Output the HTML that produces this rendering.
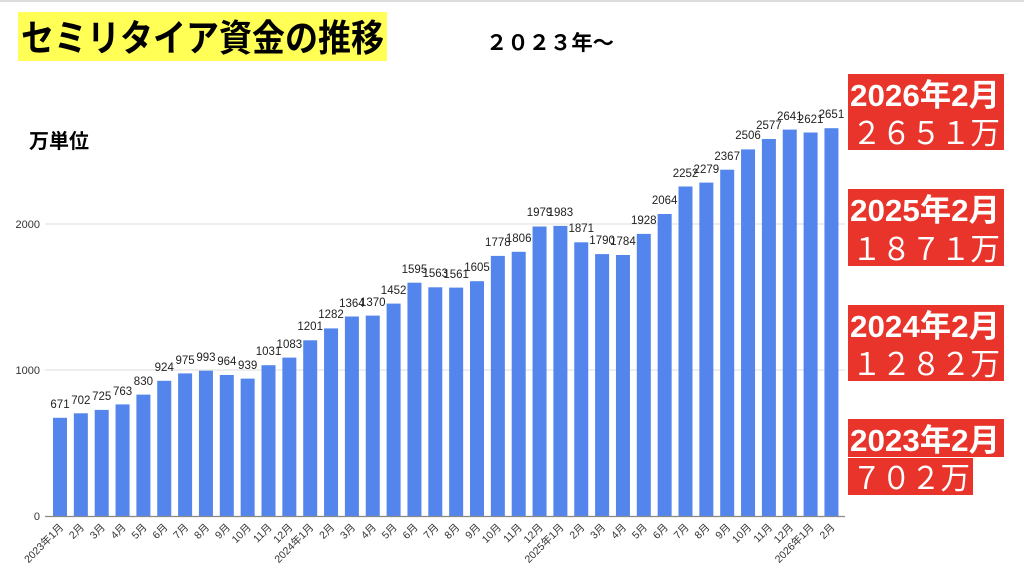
<!DOCTYPE html>
<html><head><meta charset="utf-8"><style>
html,body{margin:0;padding:0;background:#fff;width:1024px;height:577px;overflow:hidden}
svg{display:block}
text{font-family:"Liberation Sans","Noto Sans CJK JP",sans-serif}
.v{font-size:11.5px;fill:#222;text-anchor:middle}
.x{font-size:10.5px;fill:#333;text-anchor:end}
.t{font-size:11px;fill:#333;text-anchor:end}
.rb{fill:#e8342a}
.rt{fill:#fff;font-weight:bold;font-size:31px}
.rn{fill:#fff;font-size:31px}
</style></head><body>
<svg width="1024" height="577" viewBox="0 0 1024 577" xmlns="http://www.w3.org/2000/svg">
<rect x="0" y="0" width="1024" height="2" fill="#ddd"/>
<rect x="18" y="12" width="369" height="49" fill="#ffff55"/>
<text x="21" y="51" textLength="363" lengthAdjust="spacingAndGlyphs" style="font-size:37px;font-weight:bold;fill:#000">セミリタイア資金の推移</text>
<text x="486" y="50" textLength="128" lengthAdjust="spacingAndGlyphs" style="font-size:21px;font-weight:bold;fill:#000">２０２３年〜</text>
<text x="29" y="148" style="font-size:20px;font-weight:bold;fill:#000">万単位</text>
<line x1="45" y1="224" x2="845" y2="224" stroke="#ddd"/>
<line x1="45" y1="370" x2="845" y2="370" stroke="#ddd"/>
<text class="t" x="40" y="228">2000</text>
<text class="t" x="40" y="374">1000</text>
<text class="t" x="40" y="520">0</text>
<g fill="#5385ec">
<rect x="53" y="417.8" width="14" height="98.2"/>
<rect x="73.85" y="413.3" width="14" height="102.7"/>
<rect x="94.7" y="409.9" width="14" height="106.1"/>
<rect x="115.55" y="404.4" width="14" height="111.6"/>
<rect x="136.4" y="394.6" width="14" height="121.4"/>
<rect x="157.25" y="380.8" width="14" height="135.2"/>
<rect x="178.1" y="373.4" width="14" height="142.6"/>
<rect x="198.95" y="370.7" width="14" height="145.3"/>
<rect x="219.8" y="375" width="14" height="141"/>
<rect x="240.65" y="378.6" width="14" height="137.4"/>
<rect x="261.5" y="365.2" width="14" height="150.8"/>
<rect x="282.35" y="357.6" width="14" height="158.4"/>
<rect x="303.2" y="340.3" width="14" height="175.7"/>
<rect x="324.05" y="328.4" width="14" height="187.6"/>
<rect x="344.9" y="316.5" width="14" height="199.5"/>
<rect x="365.75" y="315.6" width="14" height="200.4"/>
<rect x="386.6" y="303.6" width="14" height="212.4"/>
<rect x="407.45" y="282.7" width="14" height="233.3"/>
<rect x="428.3" y="287.3" width="14" height="228.7"/>
<rect x="449.15" y="287.6" width="14" height="228.4"/>
<rect x="470" y="281.2" width="14" height="234.8"/>
<rect x="490.85" y="255.9" width="14" height="260.1"/>
<rect x="511.7" y="251.8" width="14" height="264.2"/>
<rect x="532.55" y="226.5" width="14" height="289.5"/>
<rect x="553.4" y="225.9" width="14" height="290.1"/>
<rect x="574.25" y="242.3" width="14" height="273.7"/>
<rect x="595.1" y="254.1" width="14" height="261.9"/>
<rect x="615.95" y="255" width="14" height="261"/>
<rect x="636.8" y="233.9" width="14" height="282.1"/>
<rect x="657.65" y="214" width="14" height="302"/>
<rect x="678.5" y="186.5" width="14" height="329.5"/>
<rect x="699.35" y="182.6" width="14" height="333.4"/>
<rect x="720.2" y="169.7" width="14" height="346.3"/>
<rect x="741.05" y="149.4" width="14" height="366.6"/>
<rect x="761.9" y="139" width="14" height="377"/>
<rect x="782.75" y="129.6" width="14" height="386.4"/>
<rect x="803.6" y="132.5" width="14" height="383.5"/>
<rect x="824.45" y="128.2" width="14" height="387.8"/>
</g>
<line x1="45" y1="516.5" x2="845" y2="516.5" stroke="#888" stroke-width="1.2"/>
<g class="v">
<text x="60" y="408">671</text>
<text x="80.85" y="404">702</text>
<text x="101.7" y="400">725</text>
<text x="122.55" y="395">763</text>
<text x="143.4" y="385">830</text>
<text x="164.25" y="371">924</text>
<text x="185.1" y="364">975</text>
<text x="205.95" y="361">993</text>
<text x="226.8" y="365">964</text>
<text x="247.65" y="369">939</text>
<text x="268.5" y="355">1031</text>
<text x="289.35" y="348">1083</text>
<text x="310.2" y="330">1201</text>
<text x="331.05" y="318">1282</text>
<text x="351.9" y="307">1364</text>
<text x="372.75" y="306">1370</text>
<text x="393.6" y="294">1452</text>
<text x="414.45" y="273">1595</text>
<text x="435.3" y="277">1563</text>
<text x="456.15" y="278">1561</text>
<text x="477" y="271">1605</text>
<text x="497.85" y="246">1778</text>
<text x="518.7" y="242">1806</text>
<text x="539.55" y="216">1979</text>
<text x="560.4" y="216">1983</text>
<text x="581.25" y="232">1871</text>
<text x="602.1" y="244">1790</text>
<text x="622.95" y="245">1784</text>
<text x="643.8" y="224">1928</text>
<text x="664.65" y="204">2064</text>
<text x="685.5" y="177">2252</text>
<text x="706.35" y="173">2279</text>
<text x="727.2" y="160">2367</text>
<text x="748.05" y="139">2506</text>
<text x="768.9" y="129">2577</text>
<text x="789.75" y="120">2641</text>
<text x="810.6" y="123">2621</text>
<text x="831.45" y="118">2651</text>
</g>
<g class="x">
<text x="64" y="528" transform="rotate(-45 64 528)">2023年1月</text>
<text x="84.85" y="528" transform="rotate(-45 84.85 528)">2月</text>
<text x="105.7" y="528" transform="rotate(-45 105.7 528)">3月</text>
<text x="126.55" y="528" transform="rotate(-45 126.55 528)">4月</text>
<text x="147.4" y="528" transform="rotate(-45 147.4 528)">5月</text>
<text x="168.25" y="528" transform="rotate(-45 168.25 528)">6月</text>
<text x="189.1" y="528" transform="rotate(-45 189.1 528)">7月</text>
<text x="209.95" y="528" transform="rotate(-45 209.95 528)">8月</text>
<text x="230.8" y="528" transform="rotate(-45 230.8 528)">9月</text>
<text x="251.65" y="528" transform="rotate(-45 251.65 528)">10月</text>
<text x="272.5" y="528" transform="rotate(-45 272.5 528)">11月</text>
<text x="293.35" y="528" transform="rotate(-45 293.35 528)">12月</text>
<text x="314.2" y="528" transform="rotate(-45 314.2 528)">2024年1月</text>
<text x="335.05" y="528" transform="rotate(-45 335.05 528)">2月</text>
<text x="355.9" y="528" transform="rotate(-45 355.9 528)">3月</text>
<text x="376.75" y="528" transform="rotate(-45 376.75 528)">4月</text>
<text x="397.6" y="528" transform="rotate(-45 397.6 528)">5月</text>
<text x="418.45" y="528" transform="rotate(-45 418.45 528)">6月</text>
<text x="439.3" y="528" transform="rotate(-45 439.3 528)">7月</text>
<text x="460.15" y="528" transform="rotate(-45 460.15 528)">8月</text>
<text x="481" y="528" transform="rotate(-45 481 528)">9月</text>
<text x="501.85" y="528" transform="rotate(-45 501.85 528)">10月</text>
<text x="522.7" y="528" transform="rotate(-45 522.7 528)">11月</text>
<text x="543.55" y="528" transform="rotate(-45 543.55 528)">12月</text>
<text x="564.4" y="528" transform="rotate(-45 564.4 528)">2025年1月</text>
<text x="585.25" y="528" transform="rotate(-45 585.25 528)">2月</text>
<text x="606.1" y="528" transform="rotate(-45 606.1 528)">3月</text>
<text x="626.95" y="528" transform="rotate(-45 626.95 528)">4月</text>
<text x="647.8" y="528" transform="rotate(-45 647.8 528)">5月</text>
<text x="668.65" y="528" transform="rotate(-45 668.65 528)">6月</text>
<text x="689.5" y="528" transform="rotate(-45 689.5 528)">7月</text>
<text x="710.35" y="528" transform="rotate(-45 710.35 528)">8月</text>
<text x="731.2" y="528" transform="rotate(-45 731.2 528)">9月</text>
<text x="752.05" y="528" transform="rotate(-45 752.05 528)">10月</text>
<text x="772.9" y="528" transform="rotate(-45 772.9 528)">11月</text>
<text x="793.75" y="528" transform="rotate(-45 793.75 528)">12月</text>
<text x="814.6" y="528" transform="rotate(-45 814.6 528)">2026年1月</text>
<text x="835.45" y="528" transform="rotate(-45 835.45 528)">2月</text>
</g>
<rect class="rb" x="848" y="74" width="156" height="39"/>
<rect class="rb" x="848" y="113" width="156" height="37"/>
<text class="rt" x="850" y="106" textLength="150" lengthAdjust="spacingAndGlyphs">2026年2月</text>
<text class="rn" x="852" y="144" textLength="148" lengthAdjust="spacingAndGlyphs">２６５１万</text>
<rect class="rb" x="848" y="189" width="156" height="39"/>
<rect class="rb" x="848" y="228" width="156" height="38"/>
<text class="rt" x="850" y="221" textLength="150" lengthAdjust="spacingAndGlyphs">2025年2月</text>
<text class="rn" x="852" y="260" textLength="148" lengthAdjust="spacingAndGlyphs">１８７１万</text>
<rect class="rb" x="848" y="305" width="156" height="39"/>
<rect class="rb" x="848" y="344" width="156" height="37"/>
<text class="rt" x="850" y="337" textLength="150" lengthAdjust="spacingAndGlyphs">2024年2月</text>
<text class="rn" x="852" y="375" textLength="148" lengthAdjust="spacingAndGlyphs">１２８２万</text>
<rect class="rb" x="848" y="419" width="156" height="38"/>
<rect class="rb" x="848" y="458" width="125" height="37"/>
<text class="rt" x="850" y="451" textLength="150" lengthAdjust="spacingAndGlyphs">2023年2月</text>
<text class="rn" x="852" y="489" textLength="118" lengthAdjust="spacingAndGlyphs">７０２万</text>
</svg>
</body></html>
